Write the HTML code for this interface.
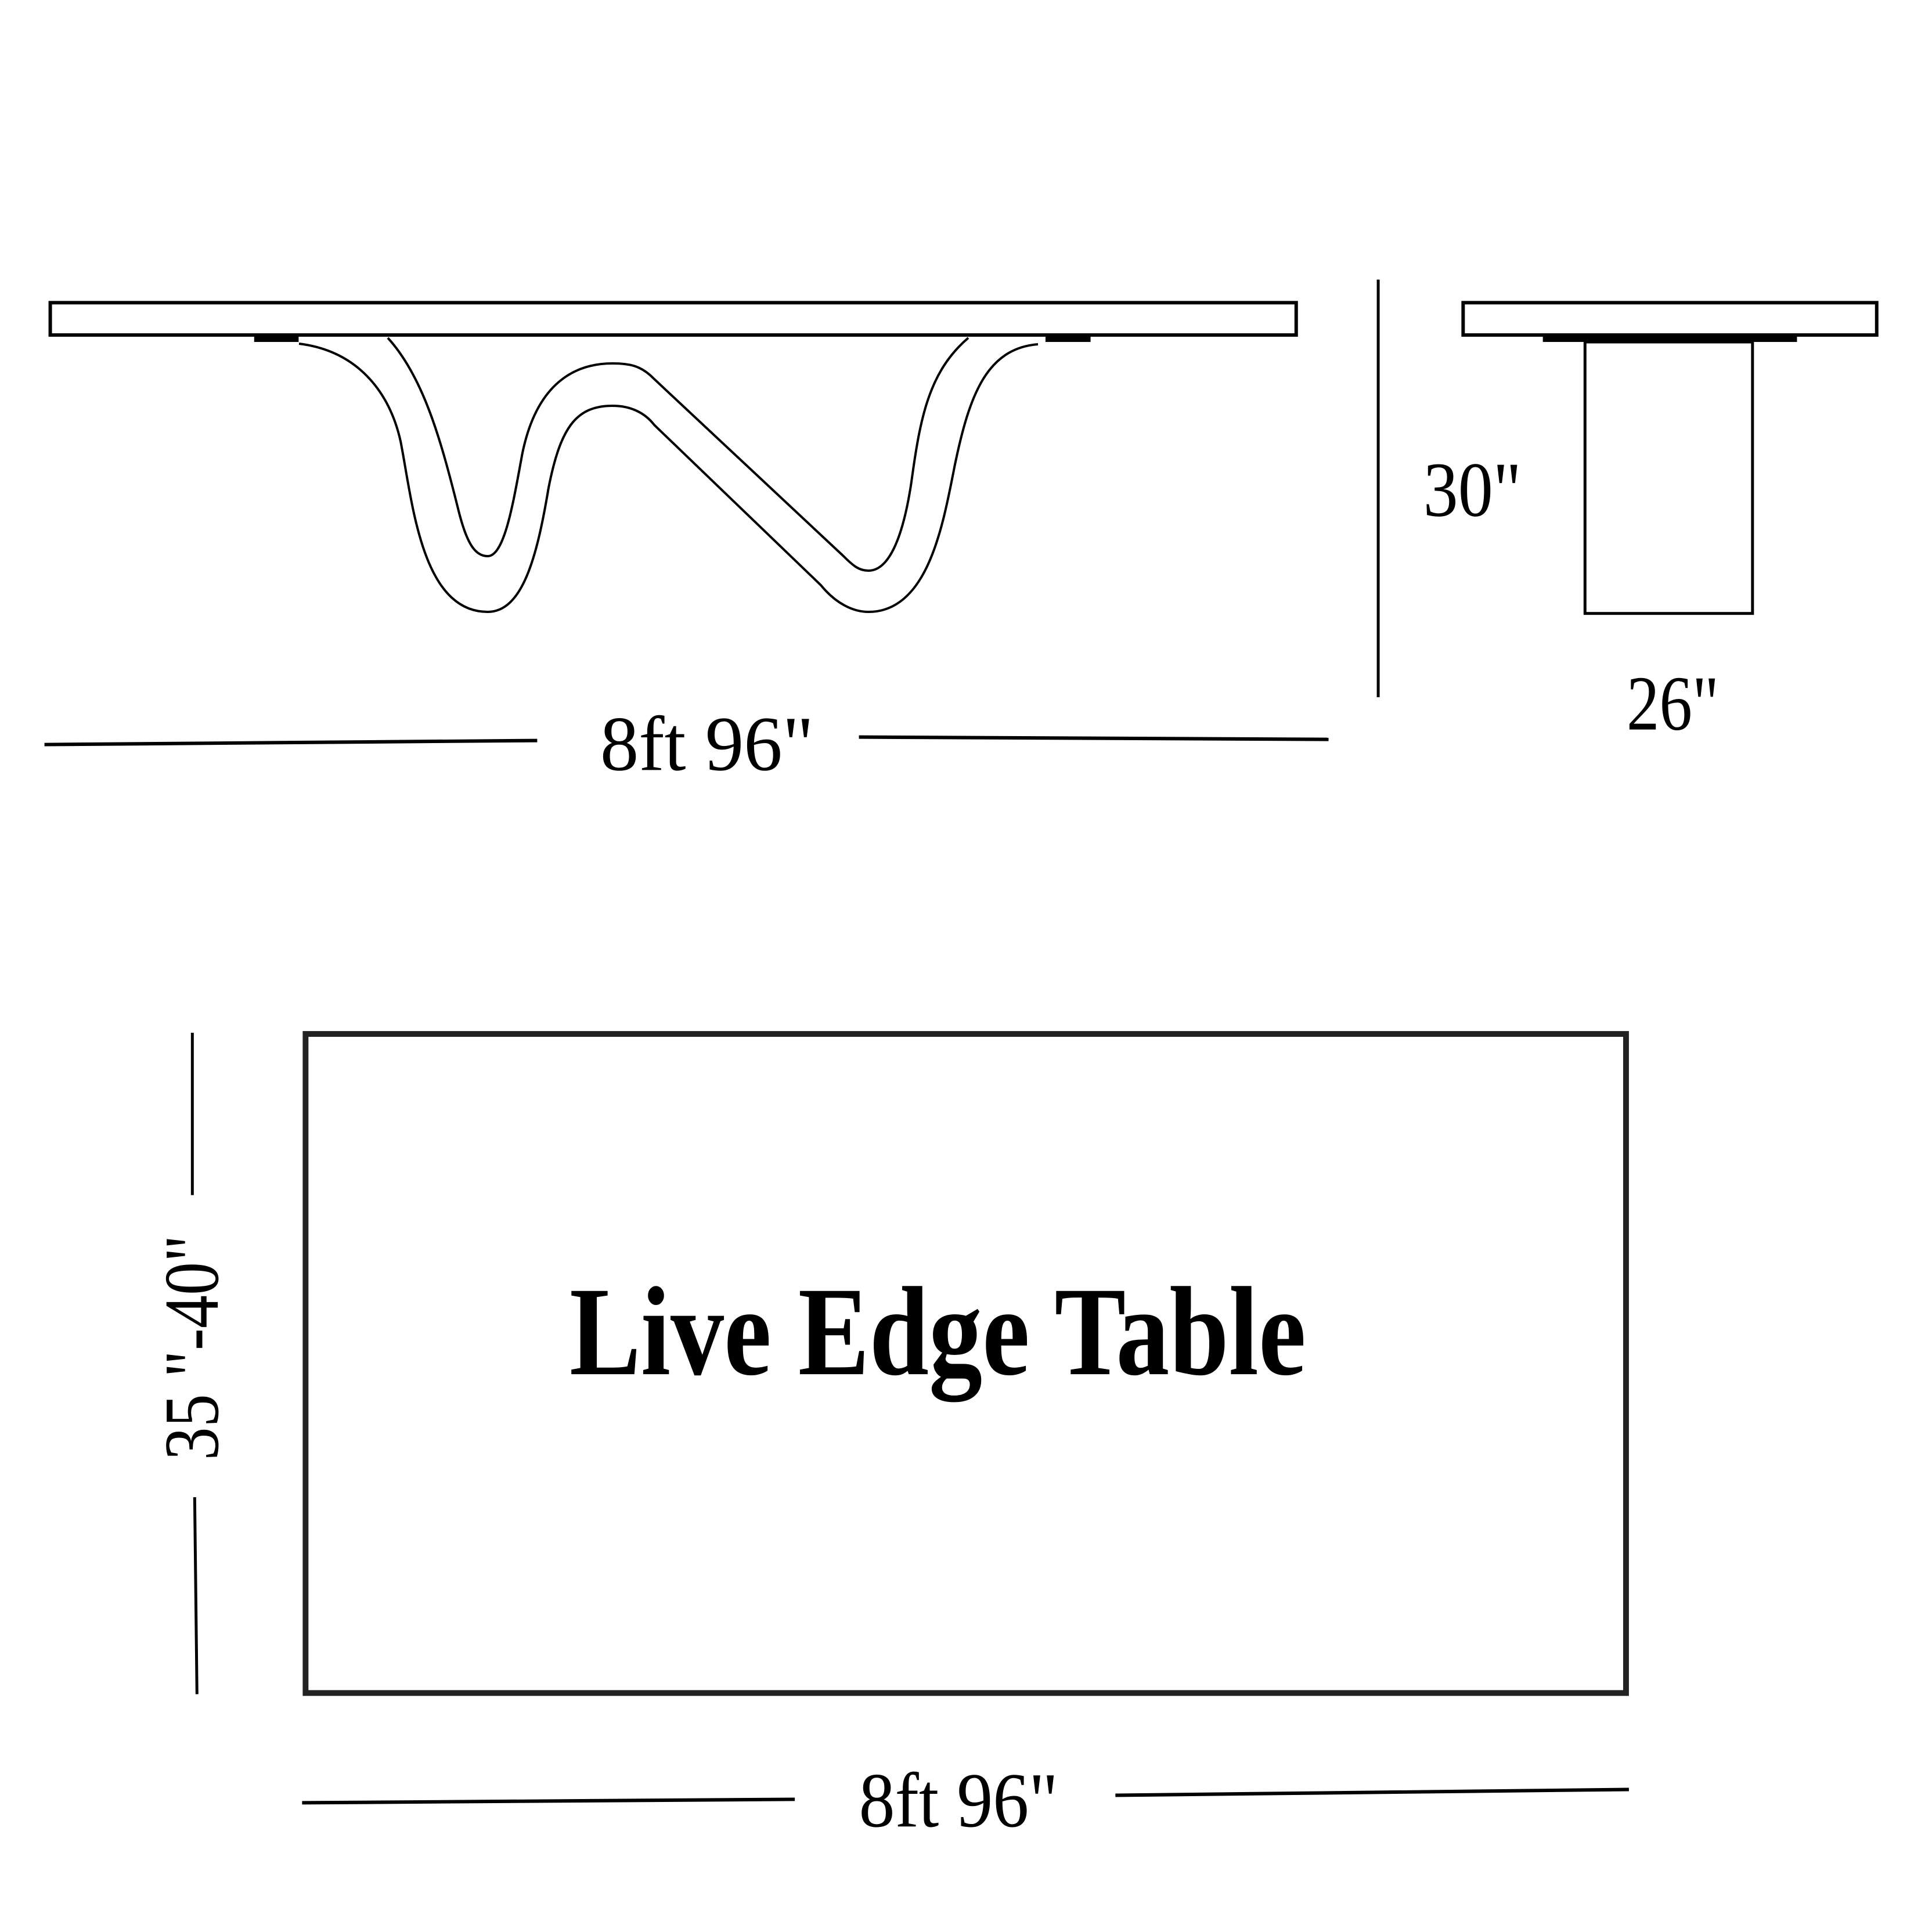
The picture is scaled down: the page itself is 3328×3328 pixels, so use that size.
<!DOCTYPE html>
<html><head><meta charset="utf-8"><style>html,body{margin:0;padding:0;background:#fff}svg{display:block}</style></head>
<body>
<svg width="3328" height="3328" viewBox="0 0 3328 3328" xmlns="http://www.w3.org/2000/svg">
<rect width="3328" height="3328" fill="#fff"/>
<g fill="none" stroke="#000" stroke-width="4">
<path d="M515,592 C620,605 672,680 690,760 C710,860 725,1054 840,1054 C900,1054 925,960 945,840 C965,740 990,699 1055,699 C1085,699 1110,710 1127,732 L1414,1008 C1440,1040 1470,1054 1496,1054 C1600,1054 1625,900 1645,800 C1670,680 1700,600 1788,593"/>
<path d="M668,582 C730,650 760,760 790,880 C805,940 820,958 840,958 C870,958 885,860 900,780 C925,660 990,626 1055,626 C1085,626 1105,630 1127,653 L1453,958 C1470,975 1480,983 1496,983 C1530,983 1555,930 1570,830 C1585,720 1600,640 1668,582"/>
</g>
<g transform="scale(0.995)">
<g fill="none" stroke="#000">
<rect x="87" y="524" width="2157" height="56" stroke-width="6"/>
<rect x="440" y="580" width="77" height="12" fill="#000" stroke="none"/>
<rect x="1810" y="580" width="78" height="12" fill="#000" stroke="none"/>
<line x1="2386" y1="484" x2="2386" y2="1207" stroke-width="5"/>
<rect x="2533" y="524" width="716" height="56" stroke-width="6"/>
<rect x="2671" y="580" width="440" height="12" fill="#000" stroke="none"/>
<rect x="2744" y="592" width="290" height="470" stroke-width="5"/>
<line x1="77" y1="1289" x2="930" y2="1282" stroke-width="6"/>
<line x1="1487" y1="1276" x2="2300" y2="1280" stroke-width="6"/>
<rect x="529" y="1790" width="2286" height="1141" stroke="#222" stroke-width="10"/>
<line x1="333" y1="1788" x2="333" y2="2069" stroke-width="5"/>
<line x1="337" y1="2592" x2="341" y2="2933" stroke-width="5"/>
<line x1="523" y1="3121" x2="1376" y2="3115" stroke-width="6"/>
<line x1="1931" y1="3108" x2="2820" y2="3098" stroke-width="6"/>
</g>
<g font-family="'Liberation Serif', serif" fill="#000">
<text x="2464" y="893" font-size="135" textLength="170" lengthAdjust="spacingAndGlyphs">30"</text>
<text x="2816" y="1263" font-size="135" textLength="160" lengthAdjust="spacingAndGlyphs">26"</text>
<text x="1039" y="1333" font-size="135" textLength="370" lengthAdjust="spacingAndGlyphs">8ft  96"</text>
<text x="1487" y="3162" font-size="135" textLength="345" lengthAdjust="spacingAndGlyphs">8ft  96"</text>
<text x="986" y="2379" font-size="220" font-weight="bold" textLength="1275" lengthAdjust="spacingAndGlyphs">Live Edge Table</text>
<text transform="translate(377,2528) rotate(-90)" font-size="135" textLength="390" lengthAdjust="spacingAndGlyphs">35 "-40"</text>
</g>
</g>
</svg>
</body></html>
